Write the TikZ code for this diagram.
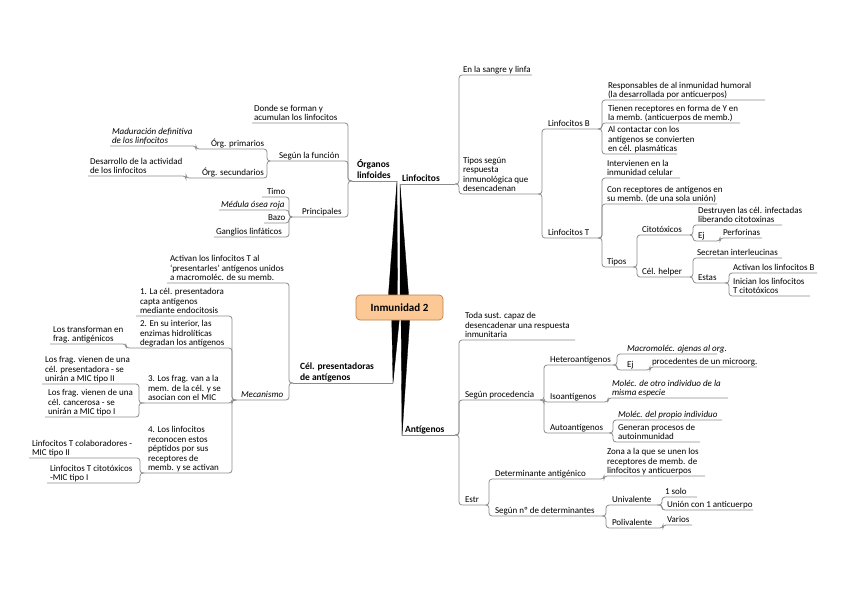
\documentclass[tikz,border=0pt]{standalone}
\usepackage{fontspec}
\setmainfont{Carlito}
\usetikzlibrary{calc}
\definecolor{lg}{RGB}{140,140,140}
\definecolor{rootfill}{RGB}{252,201,150}
\definecolor{rootdraw}{RGB}{190,128,70}
% name, x1, x2, y (underline), text x, style, text
\newcommand\mmn[7]{%
  \coordinate (#1-l) at (#2,#4);
  \coordinate (#1-r) at (#3,#4);
  \node[txt,#6] (#1) at (#5,#4+0.6) {#7};
}
\newcommand\mmR[2]{\draw[conn] (#1) -| (#2-l) -- (#2-r);}
\newcommand\mmL[2]{\draw[conn] (#1) -| (#2-r) -- (#2-l);}
\begin{document}
\begin{tikzpicture}[x=1pt,y=-1pt,
  txt/.style={inner sep=0pt,outer sep=0pt,align=left,anchor=south west,
    font=\fontsize{9}{9.5}\selectfont,execute at end node=\strut},
  hdr/.style={font=\fontsize{9.5}{10.5}\selectfont\bfseries},
  it/.style={font=\fontsize{9}{9.5}\selectfont\itshape},
  conn/.style={draw=lg,line width=0.8pt,rounded corners=3pt},
  wedge/.style={fill=black,draw=black,line width=0.3pt,line join=round},
  rootbox/.style={draw=rootdraw,fill=rootfill,line width=0.7pt,rounded corners=4pt,
    minimum width=87pt,minimum height=25pt,inner sep=0pt,
    font=\fontsize{11}{12}\selectfont\bfseries}]
\useasboundingbox (0,0) rectangle (848,599);
\fill[white] (0,0) rectangle (848,599);

% ---------- level 1 nodes ----------
\mmn{org}{352}{397}{181}{357}{hdr}{Órganos\\linfoides}
\mmn{linf}{400}{455}{184}{402}{hdr}{Linfocitos}
\mmn{cel}{293}{393}{383}{300}{hdr}{Cél. presentadoras\\de antígenos}
\mmn{ant}{402}{455}{435}{405}{hdr}{Antígenos}

% ---------- wedges and root ----------
\coordinate (rc) at (399.5,307.5);
\fill[wedge] (org-r) -- ($(rc)+(-12,0)$) -- ($(rc)+(-2,0)$) -- cycle;
\fill[wedge] (linf-l) -- ($(rc)+(0.5,0)$) -- ($(rc)+(10,0)$) -- cycle;
\fill[wedge] (cel-r) -- ($(rc)+(-8,0)$) -- ($(rc)+(1,0)$) -- cycle;
\fill[wedge] ($(ant-l)+(0,1)$) -- ($(rc)+(1.5,0)$) -- ($(rc)+(11,0)$) -- cycle;
\node[rootbox] (root) at (rc) {Inmunidad 2};

\draw[conn] (org-l) -- (org-r);
\draw[conn] (linf-l) -- (linf-r);
\draw[conn] (cel-l) -- (cel-r);
\draw[conn] (ant-l) -- (ant-r);

% ---------- Órganos linfoides ----------
\mmn{donde}{252}{348}{123}{254}{}{Donde se forman y\\acumulan los linfocitos}
\mmn{segun}{270}{348}{161}{279}{}{Según la función}
\mmn{princ}{292}{348}{217}{302}{}{Principales}
\mmn{orgp}{200}{267}{149}{211}{}{Órg. primarios}
\mmn{orgs}{190}{267}{178}{202}{}{Órg. secundarios}
\mmn{madur}{110}{196}{146}{112}{it}{Maduración definitiva\\de los linfocitos}
\mmn{desarr}{88}{186}{176}{90}{}{Desarrollo de la actividad\\de los linfocitos}
\mmn{timo}{262}{289}{197}{267}{}{Timo}
\mmn{medula}{219}{289}{210}{221}{it}{Médula ósea roja}
\mmn{bazo}{264}{289}{223}{268}{}{Bazo}
\mmn{gangl}{214}{289}{237}{216}{}{Ganglios linfáticos}
\mmL{org-l}{donde}\mmL{org-l}{segun}\mmL{org-l}{princ}
\mmL{segun-l}{orgp}\mmL{segun-l}{orgs}
\mmL{orgp-l}{madur}\mmL{orgs-l}{desarr}
\mmL{princ-l}{timo}\mmL{princ-l}{medula}\mmL{princ-l}{bazo}\mmL{princ-l}{gangl}

% ---------- Cél. presentadoras ----------
\mmn{activan}{167}{289}{283}{170}{}{Activan los linfocitos T al\\‘presentarles’ antígenos unidos\\a macromoléc. de su memb.}
\mmn{mecan}{236}{289}{400}{241}{it}{Mecanismo}
\mmn{m1}{136}{232}{316}{140}{}{1. La cél. presentadora\\capta antígenos\\mediante endocitosis}
\mmn{m2}{130}{232}{348}{140}{}{2. En su interior, las\\enzimas hidrolíticas\\degradan los antígenos}
\mmn{m3}{144}{232}{403}{148}{}{3. Los frag. van a la\\mem. de la cél. y se\\asocian con el MIC}
\mmn{m4}{144}{232}{473}{148}{}{4. Los linfocitos\\reconocen estos\\péptidos por sus\\receptores de\\memb. y se activan}
\mmn{transf}{50}{126}{344}{53}{}{Los transforman en\\frag. antigénicos}
\mmn{f1}{42}{139}{384}{45}{}{Los frag. vienen de una\\cél. presentadora - se\\unirán a MIC tipo II}
\mmn{f2}{45}{139}{417}{48}{}{Los frag. vienen de una\\cél. cancerosa - se\\unirán a MIC tipo I}
\mmn{lc}{29}{140}{458}{32}{}{Linfocitos T colaboradores -\\MIC tipo II}
\mmn{lcit}{47}{140}{483}{50}{}{Linfocitos T citotóxicos\\-MIC tipo I}
\mmL{cel-l}{activan}\mmL{cel-l}{mecan}
\mmL{mecan-l}{m1}\mmL{mecan-l}{m2}\mmL{mecan-l}{m3}\mmL{mecan-l}{m4}
\mmL{m2-l}{transf}
\mmL{m3-l}{f1}\mmL{m3-l}{f2}
\mmL{m4-l}{lc}\mmL{m4-l}{lcit}

% ---------- Linfocitos ----------
\mmn{sangre}{459}{532}{75}{463}{}{En la sangre y linfa}
\mmn{tipos}{459}{538}{194}{463}{}{Tipos según\\respuesta\\inmunológica que\\desencadenan}
\mmn{lb}{542}{598}{129}{548}{}{Linfocitos B}
\mmn{lt}{542}{598}{238}{548}{}{Linfocitos T}
\mmn{resp}{602}{765}{100}{608}{}{Responsables de al inmunidad humoral\\(la desarrollada por anticuerpos)}
\mmn{tienen}{602}{740}{123}{608}{}{Tienen receptores en forma de Y en\\la memb. (anticuerpos de memb.)}
\mmn{alcont}{602}{677}{154}{608}{}{Al contactar con los\\antígenos se convierten\\en cél. plasmáticas}
\mmn{interv}{602}{680}{178}{607}{}{Intervienen en la\\inmunidad celular}
\mmn{conrec}{602}{717}{204}{607}{}{Con receptores de antígenos en\\su memb. (de una sola unión)}
\mmn{ltipos}{602}{633}{267}{607}{}{Tipos}
\mmn{cito}{637}{690}{235}{642}{}{Citotóxicos}
\mmn{helper}{637}{690}{277}{642}{}{Cél. helper}
\mmn{destr}{693}{782}{225}{698}{}{Destruyen las cél. infectadas\\liberando citotoxinas}
\mmn{ej1}{693}{717}{241}{698}{}{Ej}
\mmn{perf}{720}{762}{238}{723}{}{Perforinas}
\mmn{secr}{693}{782}{258}{697}{}{Secretan interleucinas}
\mmn{estas}{693}{725}{283}{698}{}{Estas}
\mmn{actb}{729}{817}{273}{733}{}{Activan los linfocitos B}
\mmn{inic}{729}{810}{296}{733}{}{Inician los linfocitos\\T citotóxicos}
\mmR{linf-r}{sangre}\mmR{linf-r}{tipos}
\mmR{tipos-r}{lb}\mmR{tipos-r}{lt}
\mmR{lb-r}{resp}\mmR{lb-r}{tienen}\mmR{lb-r}{alcont}
\mmR{lt-r}{interv}\mmR{lt-r}{conrec}\mmR{lt-r}{ltipos}
\mmR{ltipos-r}{cito}\mmR{ltipos-r}{helper}
\mmR{cito-r}{destr}\mmR{cito-r}{ej1}
\mmR{ej1-r}{perf}
\mmR{helper-r}{secr}\mmR{helper-r}{estas}
\mmR{estas-r}{actb}\mmR{estas-r}{inic}

% ---------- Antígenos ----------
\mmn{toda}{459}{575}{340}{465}{}{Toda sust. capaz de\\desencadenar una respuesta\\inmunitaria}
\mmn{proc}{459}{540}{400}{465}{}{Según procedencia}
\mmn{estr}{459}{486}{505}{465}{}{Estr}
\mmn{hetero}{544}{613}{365}{550}{}{Heteroantígenos}
\mmn{iso}{544}{604}{402}{550}{}{Isoantígenos}
\mmn{auto}{544}{609}{433}{550}{}{Autoantígenos}
\mmn{macro}{617}{717}{354}{627}{it}{Macromoléc. ajenas al org.}
\mmn{ej2}{617}{646}{370}{627}{}{Ej}
\mmn{proced}{650}{757}{367}{652}{}{procedentes de un microorg.}
\mmn{moleo}{608}{728}{398}{612}{it}{Moléc. de otro individuo de la\\misma especie}
\mmn{prop}{613}{722}{420}{618}{it}{Moléc. del propio individuo}
\mmn{gener}{613}{700}{442}{618}{}{Generan procesos de\\autoinmunidad}
\mmn{det}{489}{600}{479}{495}{}{Determinante antigénico}
\mmn{segnum}{489}{602}{516}{495}{}{Según nº de determinantes}
\mmn{zona}{604}{705}{476}{607}{}{Zona a la que se unen los\\receptores de memb. de\\linfocitos y anticuerpos}
\mmn{univ}{606}{657}{505}{612}{}{Univalente}
\mmn{poli}{606}{660}{528}{612}{}{Polivalente}
\mmn{solo}{662}{697}{497}{665}{}{1 solo}
\mmn{union}{662}{753}{510}{667}{}{Unión con 1 anticuerpo}
\mmn{varios}{663}{692}{525}{667}{}{Varios}
\mmR{ant-r}{toda}\mmR{ant-r}{proc}\mmR{ant-r}{estr}
\mmR{proc-r}{hetero}\mmR{proc-r}{iso}\mmR{proc-r}{auto}
\mmR{hetero-r}{macro}\mmR{hetero-r}{ej2}
\mmR{ej2-r}{proced}
\mmR{iso-r}{moleo}
\mmR{auto-r}{prop}\mmR{auto-r}{gener}
\mmR{estr-r}{det}\mmR{estr-r}{segnum}
\mmR{det-r}{zona}
\mmR{segnum-r}{univ}\mmR{segnum-r}{poli}
\mmR{univ-r}{solo}\mmR{univ-r}{union}
\mmR{poli-r}{varios}
\end{tikzpicture}
\end{document}
